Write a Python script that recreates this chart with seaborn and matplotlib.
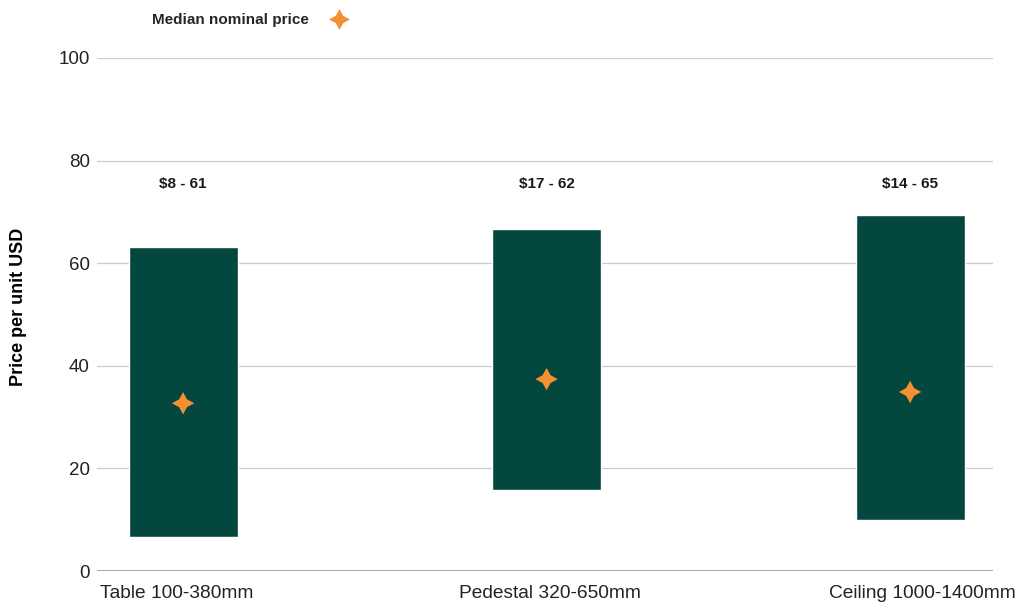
import matplotlib
matplotlib.use("Agg")
import matplotlib.pyplot as plt
import matplotlib.transforms as mtransforms
import seaborn as sns
import pandas as pd
from matplotlib.lines import Line2D

categories = ["Table 100-380mm", "Pedestal 320-650mm", "Ceiling 1000-1400mm"]
low = [6.6, 15.8, 9.9]
high = [63.2, 66.7, 69.4]
median = [32.7, 37.4, 34.9]
range_labels = ["$8 - 61", "$17 - 62", "$14 - 65"]

sns.set_theme(style="white")
plt.rcParams["font.family"] = ["Liberation Sans", "DejaVu Sans"]

df = pd.DataFrame({
    "category": categories,
    "low": low,
    "span": [h - l for h, l in zip(high, low)],
    "median": median,
})

fig = plt.figure(figsize=(10.2, 6.03), dpi=100)
ax = fig.add_axes([0.095, 0.053, 0.8785, 0.851])

teal = "#03473F"
orange = "#F4902F"

sns.barplot(data=df, x="category", y="span", order=categories, bottom=df["low"].to_numpy(),
            color=teal, saturation=1, width=0.30, ax=ax, zorder=2)
sns.scatterplot(data=df, x="category", y="median", marker=(4, 1, 0), s=260,
                color=orange, edgecolor="none", ax=ax, zorder=3, legend=False)

for i, lab in enumerate(range_labels):
    ax.text(i, 75.4, lab, ha="center", va="center", fontsize=11, fontweight="bold",
            color="#1a1a1a")

ax.set_ylim(0, 100)
ax.set_xlim(-0.237, 2.228)
ax.set_yticks([0, 20, 40, 60, 80, 100])
ax.yaxis.grid(True, color="#cccccc", linewidth=0.9, zorder=0)
ax.set_axisbelow(True)
for s in ax.spines.values():
    s.set_visible(False)
ax.axhline(0, color="#9a9a9a", linewidth=1.2, zorder=1)
ax.tick_params(axis="y", length=0, labelsize=13.5, colors="#222222", pad=5)
ax.tick_params(axis="x", length=0, labelsize=13.8, colors="#222222", pad=10)
ax.set_xlabel("")
ax.set_ylabel("Price per unit USD", fontsize=13, fontweight="bold", color="#000000")
ax.yaxis.set_label_coords(-0.078, 0.515)

# slight horizontal nudges of category labels to match the reference layout
shifts_px = [-6, 3, 12]
for lbl, dx in zip(ax.get_xticklabels(), shifts_px):
    lbl.set_transform(lbl.get_transform() + mtransforms.ScaledTranslation(dx / 100, 0, fig.dpi_scale_trans))

handle = Line2D([], [], linestyle="none", marker=(4, 1, 0), markersize=15,
                markerfacecolor=orange, markeredgecolor="none")
leg = fig.legend([handle], ["Median nominal price"], loc="center", bbox_to_anchor=(0.248, 0.967),
                 frameon=False, markerfirst=False, handletextpad=1.0,
                 prop={"weight": "bold", "size": 11})

fig.savefig("out.png", dpi=100)
